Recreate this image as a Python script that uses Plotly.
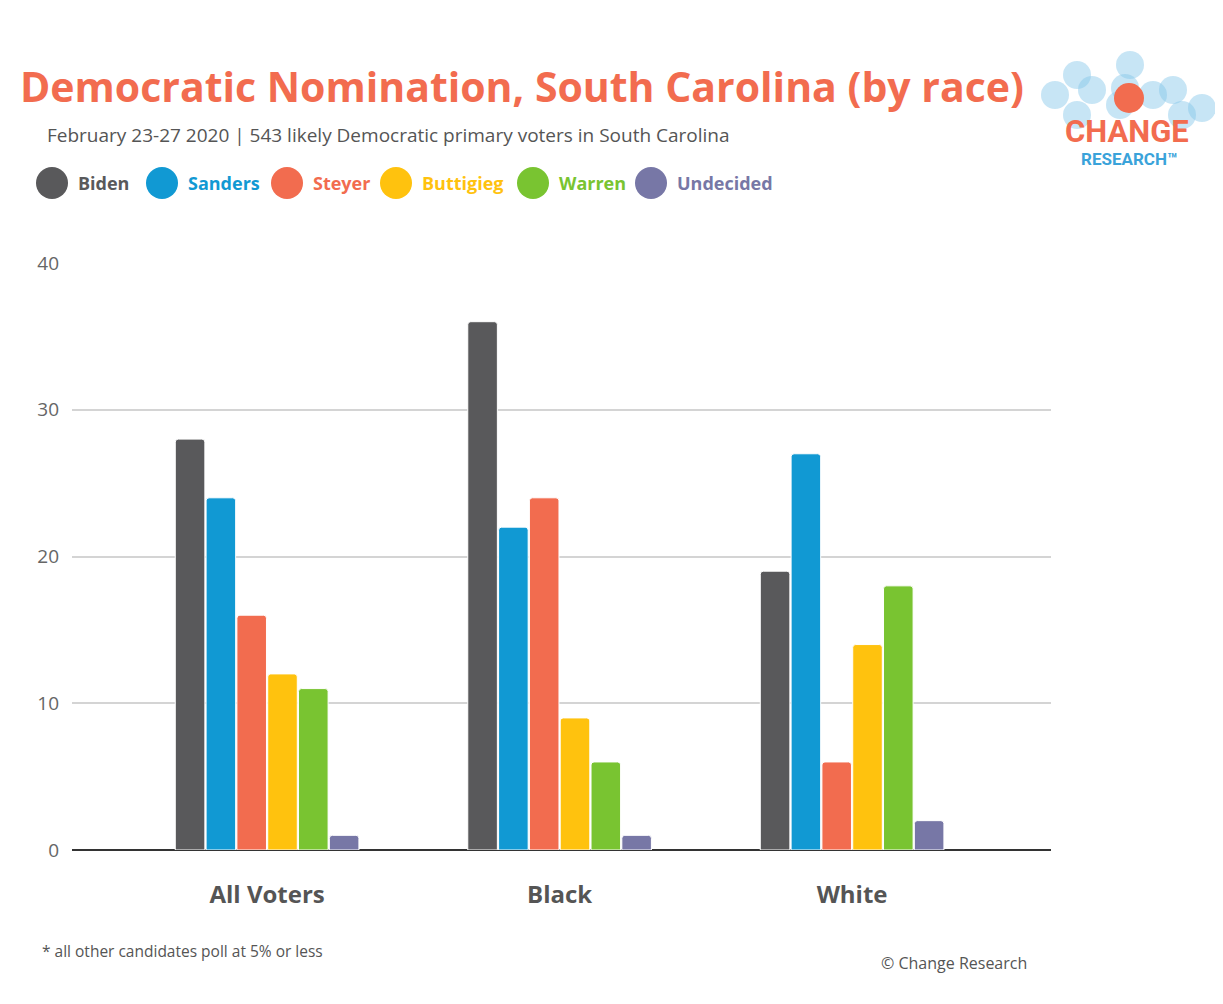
import plotly.graph_objects as go

# data
groups = ["All Voters", "Black", "White"]
candidates = ["Biden", "Sanders", "Steyer", "Buttigieg", "Warren", "Undecided"]
biden = [28, 36, 19]
sanders = [24, 22, 27]
steyer = [16, 24, 6]
buttigieg = [12, 9, 14]
warren = [11, 6, 18]
undecided = [1, 1, 2]
y_ticks = [0, 10, 20, 30, 40]

series = [biden, sanders, steyer, buttigieg, warren, undecided]
colors = ["#59595B", "#1199D3", "#F26C4F", "#FFC20E", "#79C431", "#7777A6"]

W, H = 1223, 1004
OFF = 8  # page offset in the browser
L, R, T, B = 72, 1051, 263, 850
FONT = "Open Sans"


def px(x):
    return (x - L) / (R - L)


def py(y):
    return (B - y) / (B - T)


fig = go.Figure()
for name, vals, col in zip(candidates, series, colors):
    fig.add_trace(go.Bar(
        x=groups, y=vals, name=name,
        marker=dict(color=col, line=dict(color="white", width=1)),
        showlegend=False,
    ))

shapes = []
annotations = []

# custom legend (big circles + coloured labels)
legend_x = [52, 162, 287, 396, 533, 651]
for name, col, cx in zip(candidates, colors, legend_x):
    r = 16
    shapes.append(dict(type="circle", xref="paper", yref="paper",
                       x0=px(cx - r), x1=px(cx + r), y0=py(183 + r), y1=py(183 - r),
                       fillcolor=col, line=dict(width=0), layer="above"))
    annotations.append(dict(text="<b>%s</b>" % name, xref="paper", yref="paper",
                            x=px(cx + 24), y=py(183), xanchor="left", yanchor="middle",
                            showarrow=False, font=dict(family=FONT, size=18, color=col)))

# logo bubbles
bubbles = [(1055, 95), (1077, 75), (1092, 90), (1130, 65), (1125, 88), (1153, 95),
           (1173, 90), (1202, 108), (1077, 115), (1120, 105), (1182, 115)]
for bx, by in bubbles:
    r = 14
    shapes.append(dict(type="circle", xref="paper", yref="paper",
                       x0=px(bx - r), x1=px(bx + r), y0=py(by + r), y1=py(by - r),
                       fillcolor="rgba(130,198,232,0.45)", line=dict(width=0), layer="above"))
shapes.append(dict(type="circle", xref="paper", yref="paper",
                   x0=px(1129 - 15), x1=px(1129 + 15), y0=py(98 + 15), y1=py(98 - 15),
                   fillcolor="#F26C4F", line=dict(width=0), layer="above"))

annotations += [
    dict(text="<b>CHANGE</b>", xref="paper", yref="paper", x=px(1127), y=py(131),
         xanchor="center", yanchor="middle", showarrow=False,
         font=dict(family="Roboto", size=31, color="#F26C4F")),
    dict(text="<b>RESEARCH™</b>", xref="paper", yref="paper", x=px(1129), y=py(159),
         xanchor="center", yanchor="middle", showarrow=False,
         font=dict(family="Roboto", size=17, color="#3AA3DA")),
    dict(text="<b>Democratic Nomination, South Carolina (by race)</b>", xref="paper", yref="paper",
         x=px(18), y=py(86), xanchor="left", yanchor="middle", showarrow=False,
         font=dict(family=FONT, size=41, color="#F26C4F")),
    dict(text="February 23-27 2020 | 543 likely Democratic primary voters in South Carolina",
         xref="paper", yref="paper", x=px(45), y=py(135), xanchor="left", yanchor="middle",
         showarrow=False, font=dict(family=FONT, size=19, color="#555555")),
    dict(text="* all other candidates poll at 5% or less", xref="paper", yref="paper",
         x=px(40), y=py(951), xanchor="left", yanchor="middle", showarrow=False,
         font=dict(family=FONT, size=15.5, color="#555555")),
    dict(text="© Change Research", xref="paper", yref="paper",
         x=px(1029), y=py(963), xanchor="right", yanchor="middle", showarrow=False,
         font=dict(family=FONT, size=16, color="#555555")),
]

fig.update_layout(
    width=W, height=H,
    margin=dict(l=L - OFF, r=W - R + OFF, t=T - OFF, b=H - B + OFF, pad=0),
    paper_bgcolor="white", plot_bgcolor="white",
    barmode="group", bargap=0.368, bargroupgap=0.04,
    barcornerradius=3,
    shapes=shapes, annotations=annotations,
    font=dict(family=FONT),
)
fig.update_xaxes(
    range=[-0.667, 2.68], showgrid=False, showline=False, ticks="",
    ticklabelstandoff=28,
    tickfont=dict(family=FONT, size=24, color="#555555", weight="bold"),
)
fig.update_yaxes(
    range=[0, 40], tickvals=y_ticks, showgrid=True, gridcolor="#d4d4d4", gridwidth=1.5,
    zeroline=True, zerolinecolor="#333333", zerolinewidth=2, showline=False,
    ticklabelstandoff=12, tickfont=dict(family=FONT, size=19, color="#666666"),
)

fig.write_html("out.html")
